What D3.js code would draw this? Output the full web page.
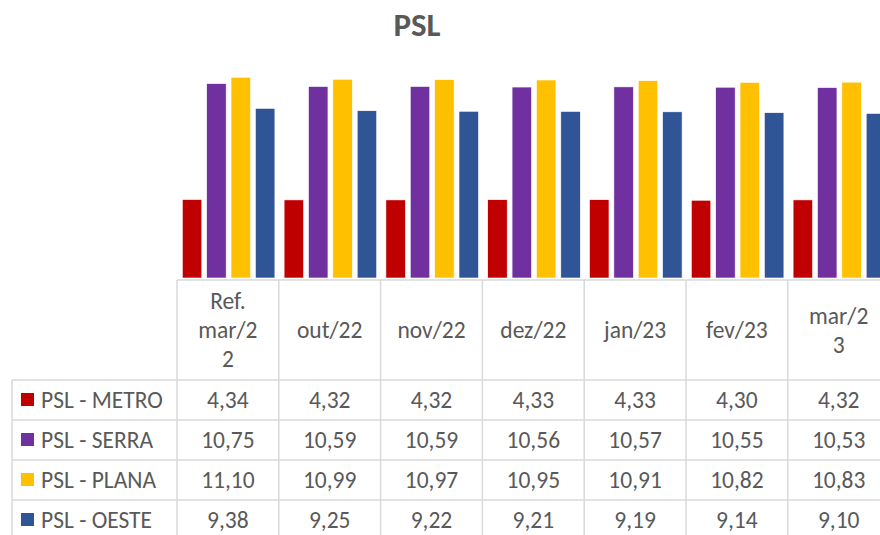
<!DOCTYPE html>
<html>
<head>
<meta charset="utf-8">
<script src="https://cdn.jsdelivr.net/npm/d3@7"></script>
<style>
  body { margin: 0; background: #fff; }
  svg { display: block; font-family: Carlito, Calibri, Lato, sans-serif; }
</style>
</head>
<body>
<svg width="880" height="535"></svg>
<script>
// dados do grafico PSL
const categories = ["Ref. mar/22", "out/22", "nov/22", "dez/22", "jan/23", "fev/23", "mar/23"];
// rotulos como aparecem quebrados na tabela
const headerLabels = [["Ref.", "mar/2", "2"], ["out/22"], ["nov/22"], ["dez/22"], ["jan/23"], ["fev/23"], ["mar/2", "3"]];
const seriesNames = ["PSL - METRO", "PSL - SERRA", "PSL - PLANA", "PSL - OESTE"];
const metro = [4.34, 4.32, 4.32, 4.33, 4.33, 4.30, 4.32];
const serra = [10.75, 10.59, 10.59, 10.56, 10.57, 10.55, 10.53];
const plana = [11.10, 10.99, 10.97, 10.95, 10.91, 10.82, 10.83];
const oeste = [9.38, 9.25, 9.22, 9.21, 9.19, 9.14, 9.10];
const colors = ["#c00000", "#7030a0", "#ffc000", "#2f5597"];

const values = [metro, serra, plana, oeste];
const textColor = "#595959", gridColor = "#d9d9d9";
const fontSize = 23.5;

let svg = d3.select("svg");

// escalas
let tableLeft = 177, colW = 101.8;
let x = d3.scaleBand()
    .domain(categories)
    .range([tableLeft, tableLeft + colW * categories.length]);
let xInner = d3.scaleBand()
    .domain(seriesNames)
    .range([5.3, 97.9])
    .paddingInner(0.2);
let y = d3.scaleLinear()
    .domain([0, 12])
    .range([278, 61]);

// titulo
svg.append("text")
    .attr("x", 417)
    .attr("y", 36)
    .attr("text-anchor", "middle")
    .attr("font-size", 33)
    .attr("font-weight", "bold")
    .attr("fill", textColor)
    .text("PSL");

// barras
let groups = svg.selectAll("g.serie")
    .data(seriesNames)
    .enter()
    .append("g")
    .attr("class", "serie")
    .attr("fill", (d, i) => colors[i]);

groups.selectAll("rect")
    .data((d, i) => values[i].map((v, j) => ({ serie: d, cat: categories[j], v: v })))
    .enter()
    .append("rect")
    .attr("x", d => x(d.cat) + xInner(d.serie))
    .attr("y", d => y(d.v))
    .attr("width", xInner.bandwidth())
    .attr("height", d => y(0) - y(d.v))
    .attr("stroke", "#fff")
    .attr("stroke-width", 0.6);

// tabela de dados
let headTop = 280, headBottom = 380, rowH = 40, legendLeft = 12;
let rowTop = i => headBottom + i * rowH;
let tableRight = x.range()[1];
let lines = svg.append("g")
    .attr("stroke", gridColor)
    .attr("stroke-width", 1.5);

lines.append("line")
    .attr("x1", tableLeft).attr("x2", tableRight)
    .attr("y1", headTop).attr("y2", headTop);

for (let i = 0; i <= seriesNames.length; i++) {
    lines.append("line")
        .attr("x1", legendLeft).attr("x2", tableRight)
        .attr("y1", rowTop(i)).attr("y2", rowTop(i));
}
lines.append("line")
    .attr("x1", legendLeft).attr("x2", legendLeft)
    .attr("y1", headBottom).attr("y2", rowTop(seriesNames.length));

categories.concat(["_end"]).forEach((c, i) => {
    let xx = tableLeft + i * x.step();
    lines.append("line")
        .attr("x1", xx).attr("x2", xx)
        .attr("y1", headTop).attr("y2", rowTop(seriesNames.length));
});

// cabecalho
let lineGap = 29;
svg.selectAll("text.head")
    .data(categories)
    .enter()
    .append("text")
    .attr("class", "head")
    .attr("text-anchor", "middle")
    .attr("font-size", fontSize)
    .attr("fill", textColor)
    .each(function (d, i) {
        let parts = headerLabels[i];
        let cy = (headTop + headBottom) / 2 - (parts.length - 1) * lineGap / 2;
        parts.forEach((p, k) => {
            d3.select(this).append("tspan")
                .attr("x", x(d) + x.bandwidth() / 2)
                .attr("y", cy + k * lineGap + 8)
                .text(p);
        });
    });

// linhas da legenda e valores
let fmt = v => v.toFixed(2).replace(".", ",");
seriesNames.forEach((s, i) => {
    let cy = rowTop(i) + rowH / 2;
    svg.append("rect")
        .attr("x", 21)
        .attr("y", cy - 7)
        .attr("width", 13)
        .attr("height", 13)
        .attr("fill", colors[i]);
    svg.append("text")
        .attr("x", 41)
        .attr("y", cy + 8)
        .attr("font-size", fontSize)
        .attr("fill", textColor)
        .text(s);
    svg.selectAll(null)
        .data(values[i])
        .enter()
        .append("text")
        .attr("x", (d, j) => x(categories[j]) + x.bandwidth() / 2)
        .attr("y", cy + 8)
        .attr("text-anchor", "middle")
        .attr("font-size", fontSize)
        .attr("fill", textColor)
        .text(d => fmt(d));
});
</script>
</body>
</html>
